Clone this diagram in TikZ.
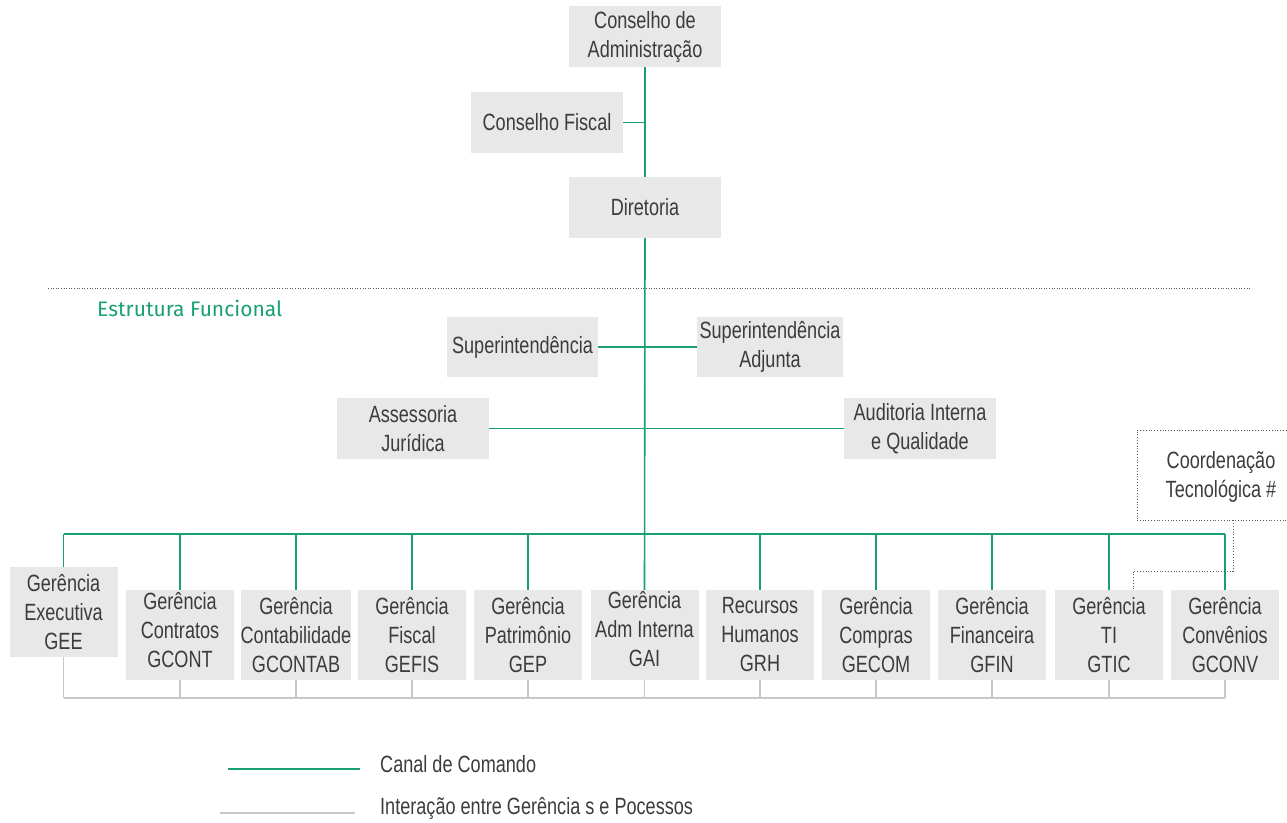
\documentclass[tikz,border=0pt]{standalone}
\usepackage{fontspec}
\setmainfont{Liberation Sans}[FakeStretch=0.77]
\newfontfamily\titlefont{Fira Sans}
\definecolor{cmdgreen}{RGB}{24,160,112}
\definecolor{boxgray}{RGB}{232,232,232}
\definecolor{txtgray}{RGB}{60,60,60}
\definecolor{linegray}{RGB}{200,200,200}
\definecolor{dotgray}{RGB}{90,90,90}
\begin{document}
\begin{tikzpicture}[x=1pt,y=-1pt,
  box/.style={fill=boxgray,text=txtgray,align=center,inner sep=0pt,
    font=\fontsize{23.5}{29}\selectfont},
  boxtext/.style={text=txtgray,align=center,inner sep=0pt,
    font=\fontsize{23.5}{29}\selectfont},
  topbox/.style={box,minimum width=152pt,minimum height=61pt},
  gbox/.style={box,minimum width=108pt,minimum height=90pt},
  cmd/.style={draw=cmdgreen,line width=1.6pt},
  inter/.style={draw=linegray,line width=1.6pt},
  dotl/.style={draw=dotgray,line width=0.8pt,dotted},
  legtext/.style={text=txtgray,anchor=west,inner sep=0pt,font=\fontsize{23.5}{26}\selectfont}
]
\useasboundingbox (0,0) rectangle (1287,822);
% top
\node[topbox] (ca) at (645,36.5) {Conselho de\\Administração};
\node[topbox] (cf) at (547,122.5) {Conselho Fiscal};
\node[topbox] (dir) at (645,207.5) {Diretoria};
% separator
\draw[draw=dotgray,line width=0.6pt,dotted] (48,288) -- (1250,288);
\node[anchor=west,inner sep=0pt,text=cmdgreen,font=\titlefont\fontsize{21}{24}\selectfont] (ef) at (97,308) {Estrutura Funcional};
% middle
\node[topbox,minimum width=151pt,minimum height=60pt] (sup) at (522.5,347) {Superintendência};
\node[topbox,minimum width=146pt,minimum height=60pt] (supa) at (770,347) {Superintendência\\Adjunta};
\node[topbox] (ass) at (413,428.5) {Assessoria\\Jurídica};
\node[topbox] (aud) at (920,428.5) {Auditoria Interna\\e Qualidade};
% coordination box
\node[draw=dotgray,dotted,line width=0.8pt,inner sep=0pt,
  minimum width=160pt,minimum height=90pt] (coord) at (1217,475) {};
\node[boxtext] (coordt) at (1221,477) {Coordenação\\Tecnológica \#};
% bottom boxes
\node[gbox] (gee) at (63.5,612) {Gerência\\Executiva\\GEE};
\node[gbox] (gcont) at (180,635) {};
\node[boxtext] (gcontt) at (180,630) {Gerência\\Contratos\\GCONT};
\node[gbox] (gcontab) at (296,635) {Gerência\\Contabilidade\\GCONTAB};
\node[gbox] (gefis) at (412,635) {Gerência\\Fiscal\\GEFIS};
\node[gbox] (gep) at (528,635) {Gerência\\Patrimônio\\GEP};
\node[gbox] (gai) at (644.5,635) {};
\node[boxtext] (gait) at (644.5,629) {Gerência\\Adm Interna\\GAI};
\node[gbox] (grh) at (760,635) {Recursos\\Humanos\\GRH};
\node[gbox] (gecom) at (876,635) {Gerência\\Compras\\GECOM};
\node[gbox] (gfin) at (992,635) {Gerência\\Financeira\\GFIN};
\node[gbox] (gtic) at (1109,635) {Gerência\\TI\\GTIC};
\node[gbox] (gconv) at (1225,635) {Gerência\\Convênios\\GCONV};
% command channel
\draw[cmd] (ca.south -| dir.north) -- (dir.north);
\draw[cmd] (cf.east) -- (cf.east -| dir.north);
\draw[cmd] (dir.south) -- (gai.north);
\draw[cmd] (sup.east) -- (supa.west);
\draw[cmd] (ass.east) -- (aud.west);
\coordinate (busL) at (63.5,534);
\coordinate (busR) at (1225,534);
\draw[cmd] (busL) -- (busR);
\foreach \b in {gee,gcont,gcontab,gefis,gep,grh,gecom,gfin,gtic,gconv}
  \draw[cmd] (\b.north |- busL) -- (\b.north);
% interaction
\coordinate (intL) at (63.5,698);
\draw[inter] (intL) -- (intL -| gconv.south);
\foreach \b in {gee,gcont,gcontab,gefis,gep,gai,grh,gecom,gfin,gtic,gconv}
  \draw[inter] (\b.south) -- (\b.south |- intL);
% coordination link
\coordinate (cl1) at (1233,571);
\draw[dotl] (coord.south -| cl1) -- (cl1) -- (cl1 -| 1133,0) -- (1133,0 |- gtic.north);
% legend
\coordinate (lg1a) at (228,769);
\coordinate (lg1b) at (360,769);
\coordinate (lg2a) at (220,813);
\coordinate (lg2b) at (355,813);
\draw[cmd] (lg1a) -- (lg1b);
\draw[inter] (lg2a) -- (lg2b);
\node[legtext] (l1) at (380,764) {Canal de Comando};
\node[legtext] (l2) at (380,808) {Interação entre Gerência s e Pocessos};
\end{tikzpicture}
\end{document}
